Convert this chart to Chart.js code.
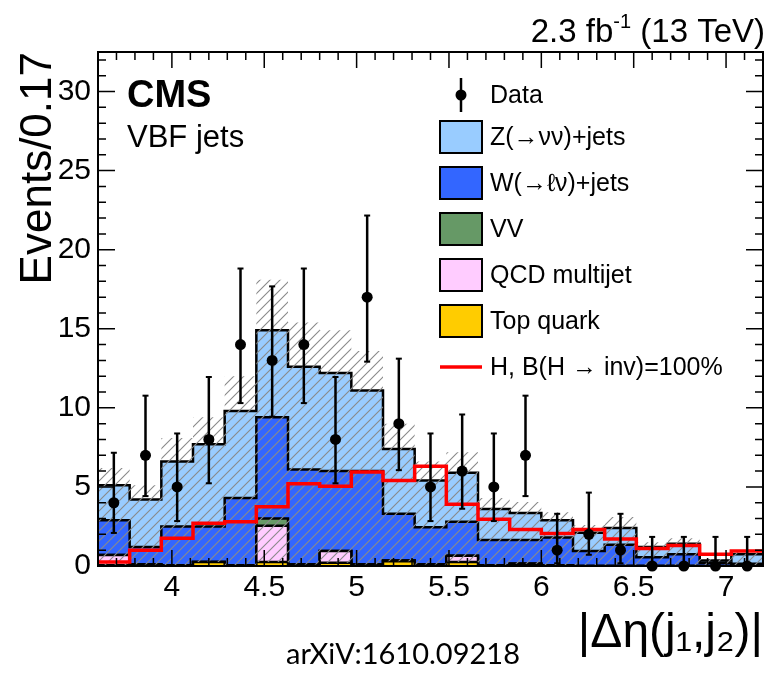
<!DOCTYPE html>
<html>
<head>
<meta charset="utf-8">
<script src="https://cdn.jsdelivr.net/npm/chart.js@4.4.1/dist/chart.umd.min.js"></script>
<style>
  html, body { margin: 0; padding: 0; background: #fff; }
</style>
</head>
<body>
<canvas id="dEtaChart" width="771" height="679"></canvas>
<script>
// binning of |delta eta(j1,j2)|
const xMin = 3.6, xMax = 7.2, nBins = 21;

// stacked backgrounds, events per bin
const topQuark = [0.05, 0.1, 0.05, 0.25, 0.05, 0.25, 0.1, 0.2, 0.1, 0.3, 0.1, 0.25, 0.05, 0.15, 0.05, 0, 0, 0, 0, 0, 0];
const qcdMultijet = [0.65, 0, 0, 0, 0, 2.3, 0, 0.75, 0, 0.05, 0, 0.4, 0, 0, 0, 0, 0, 0, 0, 0, 0];
const dibosonVV = [0, 0, 0, 0, 0, 0.45, 0, 0, 0, 0, 0, 0, 0, 0, 0, 0, 0, 0, 0, 0, 0];
const wJets = [2.2, 1.1, 2.45, 2.25, 4.25, 6.4, 6.0, 5.05, 5.9, 2.95, 2.35, 2.15, 1.6, 1.5, 1.75, 0.95, 1.35, 0.55, 0.75, 0.2, 0.15];
const zJets = [2.2, 3.0, 4.1, 5.2, 5.5, 5.5, 6.5, 6.2, 5.1, 4.1, 2.95, 3.1, 1.95, 1.7, 1.1, 1.15, 1.05, 0.65, 0.65, 0.15, 0.6];
const bkgUnc = [1.1, 0.9, 1.5, 1.7, 2.2, 3.2, 2.8, 2.7, 2.5, 1.6, 1.2, 1.3, 0.7, 0.7, 0.5, 0.5, 0.7, 0.3, 0.35, 0.1, 0.2];

// signal H -> inv
const signalH = [0.25, 1.0, 1.75, 2.7, 2.8, 3.75, 5.2, 5.05, 5.95, 5.4, 6.3, 3.9, 2.95, 2.3, 2.05, 2.3, 1.7, 1.1, 1.3, 0.75, 0.95];

// observed data and its error bars
const dataCounts = [4, 7, 5, 8, 14, 13, 14, 8, 17, 9, 5, 6, 5, 7, 1, 2, 1, 0, 0, 0, 0];
const dataLow = [2.09, 4.42, 2.84, 5.23, 10.3, 9.44, 10.3, 5.23, 12.92, 6.06, 2.84, 3.62, 2.84, 4.42, 0.17, 0.71, 0.17, 0, 0, 0, 0];
const dataHigh = [7.16, 10.77, 8.38, 11.95, 18.81, 17.68, 18.81, 11.95, 22.16, 13.11, 8.38, 9.58, 8.38, 10.77, 3.3, 4.64, 3.3, 1.84, 1.84, 1.84, 1.84];

const xTicks = [4, 4.5, 5, 5.5, 6, 6.5, 7];
const yTicks = [0, 5, 10, 15, 20, 25, 30];

const FONT = '"Liberation Sans", Arial, sans-serif';

const binWidth = (xMax - xMin) / nBins;
const edges = Array.from({ length: nBins + 1 }, (_, i) => xMin + i * binWidth);
const centers = edges.slice(0, -1).map(e => e + binWidth / 2);

function steps(vals) {
  const pts = [];
  vals.forEach((v, i) => {
    pts.push({ x: edges[i], y: v });
    pts.push({ x: edges[i + 1], y: v });
  });
  return pts;
}

// cumulative stack
const cumTop = topQuark.slice();
const cumQcd = cumTop.map((v, i) => v + qcdMultijet[i]);
const cumVV = cumQcd.map((v, i) => v + dibosonVV[i]);
const cumW = cumVV.map((v, i) => v + wJets[i]);
const cumZ = cumW.map((v, i) => v + zJets[i]);

const errPts = [];
centers.forEach((c, i) => {
  errPts.push({ x: c, y: dataLow[i] }, { x: c, y: dataHigh[i] }, { x: c, y: null });
});

const canvas = document.getElementById('dEtaChart');
const ctx = canvas.getContext('2d');

// hatch pattern for the uncertainty band
const pc = document.createElement('canvas');
pc.width = 10; pc.height = 10;
const pctx = pc.getContext('2d');
pctx.strokeStyle = '#8a8a8a';
pctx.lineWidth = 1.1;
pctx.beginPath();
pctx.moveTo(0, 10); pctx.lineTo(10, 0);
pctx.moveTo(-5, 5); pctx.lineTo(5, -5);
pctx.moveTo(5, 15); pctx.lineTo(15, 5);
pctx.stroke();
const hatch = ctx.createPattern(pc, 'repeat');

// higher order = drawn further below
function stackSet(label, vals, color, order) {
  return {
    label: label,
    data: steps(vals),
    borderColor: '#000',
    borderWidth: 2.5,
    backgroundColor: color,
    fill: 'origin',
    pointRadius: 0,
    order: order
  };
}

const frame = {
  id: 'frame',
  afterDatasetsDraw(chart) {
    const { ctx, chartArea: a, scales: { x, y } } = chart;
    ctx.save();
    ctx.strokeStyle = '#000';
    ctx.lineWidth = 1.5;
    ctx.beginPath();
    for (let v = 0; v <= 32; v++) {
      const py = y.getPixelForValue(v);
      const len = v % 5 === 0 ? 17 : 8;
      ctx.moveTo(a.left, py); ctx.lineTo(a.left + len, py);
      ctx.moveTo(a.right, py); ctx.lineTo(a.right - len, py);
    }
    for (let k = 36; k <= 72; k++) {
      const px = x.getPixelForValue(k / 10);
      const len = k % 5 === 0 ? 16 : 8;
      ctx.moveTo(px, a.bottom); ctx.lineTo(px, a.bottom - len);
      ctx.moveTo(px, a.top); ctx.lineTo(px, a.top + len);
    }
    ctx.stroke();
    ctx.lineWidth = 2;
    ctx.strokeRect(a.left, a.top, a.right - a.left, a.bottom - a.top);
    ctx.restore();
  }
};

const annotations = {
  id: 'annotations',
  afterDraw(chart) {
    const c = chart.ctx;
    const ds = chart.data.datasets;
    const a = chart.chartArea;
    c.save();
    c.fillStyle = '#000';
    c.textBaseline = 'middle';

    // y axis title, right-aligned to the top of the frame
    c.save();
    c.translate(39, a.top);
    c.rotate(-Math.PI / 2);
    c.textAlign = 'right';
    c.font = '44px ' + FONT;
    c.fillText('Events/0.17', 0, 0);
    c.restore();

    c.font = 'bold 38px ' + FONT;
    c.fillText('CMS', 127, 97);
    c.font = '31px ' + FONT;
    c.fillText('VBF jets', 127, 138);

    // luminosity label
    const p1 = '2.3 fb', p3 = ' (13 TeV)';
    c.font = '33px ' + FONT;
    const w1 = c.measureText(p1).width, w3 = c.measureText(p3).width;
    c.font = '20px ' + FONT;
    const w2 = c.measureText('-1').width;
    const lx = 765 - (w1 + w2 + w3);
    c.font = '33px ' + FONT;
    c.fillText(p1, lx, 33);
    c.font = '20px ' + FONT;
    c.fillText('-1', lx + w1, 22);
    c.font = '33px ' + FONT;
    c.fillText(p3, lx + w1 + w2, 33);

    // legend
    const rowY = [95, 137, 183, 229, 275, 321, 367];
    const boxL = 440, boxR = 482, textX = 490;
    c.font = '25px ' + FONT;
    const entries = [
      { label: ds[0].label, kind: 'data' },
      { label: ds[8].label, kind: 'box', color: ds[8].backgroundColor },
      { label: ds[7].label, kind: 'box', color: ds[7].backgroundColor },
      { label: ds[6].label, kind: 'box', color: ds[6].backgroundColor },
      { label: ds[5].label, kind: 'box', color: ds[5].backgroundColor },
      { label: ds[4].label, kind: 'box', color: ds[4].backgroundColor },
      { label: ds[2].label, kind: 'line', color: ds[2].borderColor }
    ];
    entries.forEach((e, i) => {
      const yy = rowY[i];
      if (e.kind === 'data') {
        c.strokeStyle = '#000'; c.lineWidth = 2.5;
        c.beginPath(); c.moveTo(461, yy - 17); c.lineTo(461, yy + 17); c.stroke();
        c.beginPath(); c.arc(461, yy, 5.5, 0, Math.PI * 2); c.fill();
      } else if (e.kind === 'box') {
        c.fillStyle = e.color;
        c.fillRect(boxL, yy - 16, boxR - boxL, 32);
        c.strokeStyle = '#000'; c.lineWidth = 2;
        c.strokeRect(boxL, yy - 16, boxR - boxL, 32);
      } else {
        c.strokeStyle = e.color; c.lineWidth = 3.5;
        c.beginPath(); c.moveTo(boxL, yy); c.lineTo(boxR, yy); c.stroke();
      }
      c.fillStyle = '#000';
      c.fillText(e.label, textX, yy + 1);
    });

    // reference tag
    c.font = '29px Lato, "Open Sans", sans-serif';
    c.textAlign = 'center';
    c.fillText('arXiV:1610.09218', 403, 655);
    c.restore();
  }
};

new Chart(canvas, {
  type: 'line',
  data: {
    datasets: [
      {
        label: 'Data',
        data: centers.map((c, i) => ({ x: c, y: dataCounts[i] })),
        showLine: false,
        pointRadius: 5.5,
        pointBackgroundColor: '#000',
        pointBorderColor: '#000',
        pointBorderWidth: 0,
        clip: false,
        order: 0
      },
      {
        label: 'Data errors',
        data: errPts,
        borderColor: '#000',
        borderWidth: 2.5,
        spanGaps: false,
        pointStyle: 'line',
        pointRadius: 3,
        pointBorderColor: '#000',
        pointBorderWidth: 2,
        fill: false,
        clip: false,
        order: 1
      },
      {
        label: 'H, B(H \u2192 inv)=100%',
        data: steps(signalH),
        borderColor: '#ff0000',
        borderWidth: 3.5,
        fill: false,
        pointRadius: 0,
        order: 2
      },
      {
        label: 'Bkg. unc. up',
        data: steps(cumZ.map((v, i) => v + bkgUnc[i])),
        borderColor: 'rgba(0,0,0,0)',
        backgroundColor: hatch,
        fill: '+1',
        pointRadius: 0,
        order: 3
      },
      stackSet('Top quark', cumTop, '#ffcc00', 5),
      stackSet('QCD multijet', cumQcd, '#ffccff', 6),
      stackSet('VV', cumVV, '#669966', 7),
      stackSet('W(\u2192\u2113\u03bd)+jets', cumW, '#3366ff', 8),
      stackSet('Z(\u2192\u03bd\u03bd)+jets', cumZ, '#99ccff', 9),
      {
        label: 'Bkg. unc. down',
        data: steps(cumZ.map((v, i) => Math.max(v - bkgUnc[i], 0))),
        borderColor: 'rgba(0,0,0,0)',
        fill: false,
        pointRadius: 0,
        order: 4
      }
    ]
  },
  options: {
    responsive: false,
    animation: false,
    devicePixelRatio: 1,
    layout: { padding: { top: 52, right: 8, left: 0, bottom: 0 } },
    plugins: {
      legend: { display: false },
      tooltip: { enabled: false }
    },
    elements: { line: { tension: 0 } },
    scales: {
      x: {
        type: 'linear',
        min: xMin,
        max: xMax,
        grid: { display: false, drawTicks: false },
        border: { display: false },
        afterBuildTicks: s => { s.ticks = xTicks.map(v => ({ value: v })); },
        afterFit: s => { s.height = 113; },
        ticks: {
          autoSkip: false, maxRotation: 0, padding: 4, color: '#000',
          font: { family: FONT, size: 30 },
          callback: v => String(v)
        },
        title: {
          display: true, text: '|\u0394\u03b7(j\u2081,j\u2082)|', align: 'end', color: '#000',
          font: { family: FONT, size: 48 }, padding: { top: 0, bottom: 16 }
        }
      },
      y: {
        min: 0,
        max: 32.5,
        grid: { display: false, drawTicks: false },
        border: { display: false },
        afterBuildTicks: s => { s.ticks = yTicks.map(v => ({ value: v })); },
        afterFit: s => { s.width = 98; },
        ticks: {
          autoSkip: false, padding: 7, color: '#000',
          font: { family: FONT, size: 30 }
        }
      }
    }
  },
  plugins: [frame, annotations]
});
</script>
</body>
</html>
